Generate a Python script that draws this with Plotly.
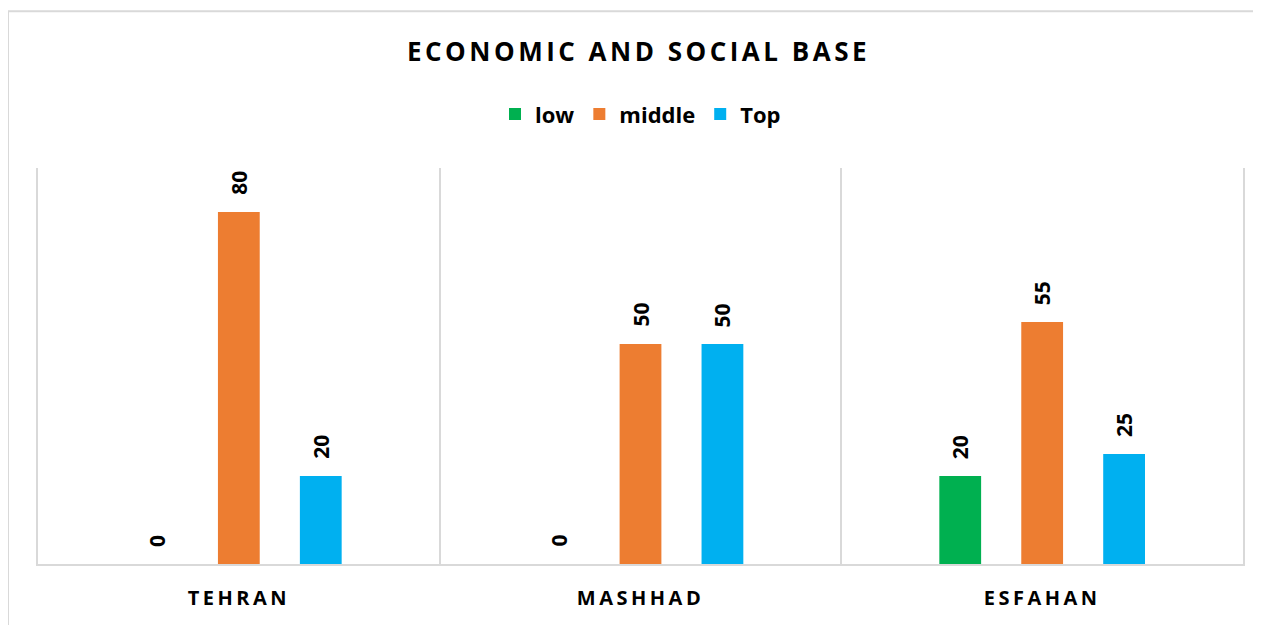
import plotly.graph_objects as go

cities = ["TEHRAN", "MASHHAD", "ESFAHAN"]
series_names = ["low", "middle", "Top"]
low = [0, 0, 20]
middle = [80, 50, 55]
top = [20, 50, 25]
colors = ["#00B050", "#ED7D31", "#00B0F0"]

FONT = "Open Sans"
BAR_STEP_PX = 81.9   # horizontal distance between bar centres within a group

fig = go.Figure()
annotations = []
for i, (name, vals, col) in enumerate(zip(series_names, [low, middle, top], colors)):
    fig.add_trace(go.Bar(
        x=cities, y=vals, name=name, marker=dict(color=col, line=dict(width=0)),
        cliponaxis=False,
    ))
    for c, v in zip(cities, vals):
        annotations.append(dict(
            x=c, y=v, xref="x", yref="y", text=str(v), showarrow=False,
            textangle=-90, xanchor="center", yanchor="bottom",
            xshift=(i - 1) * BAR_STEP_PX, yshift=15,
            font=dict(family=FONT, size=21, color="#000000", weight="bold"),
        ))

spaced_ticks = ['<span style="letter-spacing:3.5px">%s</span>' % c for c in cities]

fig.update_layout(
    width=1261, height=625,
    paper_bgcolor="white", plot_bgcolor="white",
    margin=dict(l=30, r=26, t=160, b=69),
    barmode="group", bargap=0.388, bargroupgap=0.49,
    title=dict(text='<span style="letter-spacing:3.5px">ECONOMIC AND SOCIAL BASE</span>',
               x=0.5, xanchor="center", y=0.93, yanchor="middle",
               font=dict(family=FONT, size=26, color="#000000", weight="bold")),
    legend=dict(orientation="h", x=0.5, xanchor="center", y=1.136, yanchor="middle",
                font=dict(family=FONT, size=22, color="#000000", weight="bold"),
                itemwidth=30, traceorder="normal"),
    xaxis=dict(showline=True, linecolor="#D9D9D9", linewidth=1.5,
               tickson="boundaries", showgrid=True, gridcolor="#D9D9D9", gridwidth=1.5,
               ticks="", ticklabelstandoff=15,
               tickmode="array", tickvals=cities, ticktext=spaced_ticks,
               tickfont=dict(family=FONT, size=20, color="#000000", weight="bold")),
    yaxis=dict(range=[0, 90], showticklabels=False, ticks="", showgrid=False, zeroline=False,
               showline=True, mirror=True, linecolor="#D9D9D9", linewidth=1.5),
    annotations=annotations,
    shapes=[dict(type="rect", xref="paper", yref="paper",
                 x0=-0.0249, x1=1.05, y0=-0.25, y1=1.396,
                 line=dict(color="#D9D9D9", width=2), fillcolor="rgba(0,0,0,0)", layer="below")],
)

fig.write_html("out.html")
